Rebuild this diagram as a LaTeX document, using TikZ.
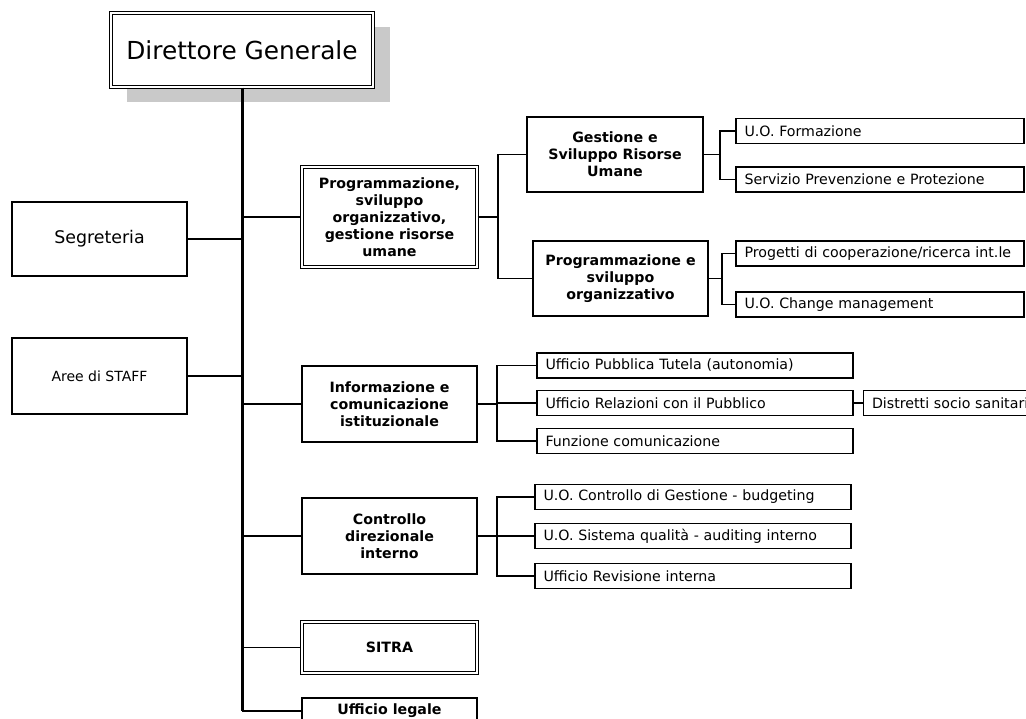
\documentclass[tikz,border=0pt]{standalone}
\usepackage{fontspec}
\setmainfont{DejaVu Sans}
\begin{document}
\begin{tikzpicture}[x=1pt,y=-1pt,
  box/.style={draw, line width=1.8pt, inner sep=0pt, align=center},
  unit/.style={box, font=\fontsize{14.2}{17}\selectfont\bfseries,
    minimum width=175pt, minimum height=75pt},
  dbl/.style={double, line width=1.3pt, double distance=1.8pt},
  leaf/.style={draw, line width=1.8pt, minimum height=25pt, inner xsep=8.5pt,
    inner ysep=0pt, align=left, font=\fontsize{14.2}{16}\selectfont},
  leafA/.style={leaf, text width=271pt},
  leafB/.style={leaf, text width=299pt},
  link/.style={line width=1.9pt},
  heavy/.style={line width=2.7pt},
  trunk/.style={line width=3pt},
]
\useasboundingbox (0,0) rectangle (1026,718);
\clip (0,0) rectangle (1026,718);

% shadow behind the head box
\fill[black!21] (127,27) rectangle (390,102);

% head and staff
\node[box, dbl, fill=white, minimum width=262pt, minimum height=74pt,
  font=\fontsize{24.8}{28}\selectfont] (dg) at (242,50) {Direttore Generale};
\node[box, line width=1.6pt, minimum width=175pt, minimum height=74pt,
  font=\fontsize{17.4}{20}\selectfont] (seg) at (99.5,239) {Segreteria};
\node[box, line width=1.6pt, minimum width=175pt, minimum height=76pt,
  font=\fontsize{14}{16}\selectfont] (staff) at (99.5,376) {Aree di STAFF};

% first-level units
\node[unit, dbl, minimum height=100pt] (prog) at (389.5,217)
  {Programmazione,\\sviluppo\\organizzativo,\\gestione risorse\\umane};
\node[unit, minimum height=76pt] (info) at (389.5,404)
  {Informazione e\\comunicazione\\istituzionale};
\node[unit, minimum height=76pt] (ctrl) at (389.5,536)
  {Controllo\\direzionale\\interno};
\node[unit, dbl, minimum height=51pt] (sitra) at (389.5,647.5) {SITRA};
\node[unit, minimum height=26pt] (legale) at (389.5,711) {Ufficio legale};

% second-level units
\node[unit, minimum width=176pt] (gest) at (615,154.5)
  {Gestione e\\Sviluppo Risorse\\Umane};
\node[unit] (psv) at (620.5,278.5)
  {Programmazione e\\sviluppo\\organizzativo};

% offices
\node[leafA] (form) at (880,131) {U.O. Formazione};
\node[leafA] (spp)  at (880,179.5) {Servizio Prevenzione e Protezione};
\node[leafA] (proj) at (880,253.5) {Progetti di cooperazione/ricerca int.le};
\node[leafA] (chg)  at (880,304.5) {U.O. Change management};

\node[leafB] (tut) at (695,365.5) {Ufficio Pubblica Tutela (autonomia)};
\node[leafB] (urp) at (695,403) {Ufficio Relazioni con il Pubblico};
\node[leafB] (fun) at (695,441) {Funzione comunicazione};
\node[leaf, text width=240pt] (dist) at (992,403) {Distretti socio sanitari};

\node[leafB] (bud)  at (693,497) {U.O. Controllo di Gestione - budgeting};
\node[leafB] (qual) at (693,536) {U.O. Sistema qualità - auditing interno};
\node[leafB] (rev)  at (693,576) {Ufficio Revisione interna};

% bracket positions
\coordinate (bA) at (498,0);
\coordinate (bB) at (720,0);
\coordinate (bC) at (722,0);
\coordinate (bD) at (497,0);

% trunk and its branches
\draw[trunk] (dg.south) -- (dg.south |- legale.west);
\foreach \n in {seg,staff}
  \draw[link] (dg.south |- \n.east) -- (\n.east);
\foreach \n in {prog,info,ctrl,sitra,legale}
  \draw[link] (dg.south |- \n.west) -- (\n.west);

% programmazione branch
\draw[link] (prog.east) -- (prog.east -| bA);
\draw[link] (gest.west) -- (gest.west -| bA) -- (psv.west -| bA) -- (psv.west);
\draw[link] (gest.east) -- (gest.east -| bB);
\draw[link] (form.west) -- (form.west -| bB) -- (spp.west -| bB) -- (spp.west);
\draw[link] (psv.east) -- (psv.east -| bC);
\draw[link] (proj.west) -- (proj.west -| bC) -- (chg.west -| bC) -- (chg.west);

% informazione branch
\draw[heavy] (info.east) -- (info.east -| bD);
\draw[link] (tut.west) -- (tut.west -| bD) -- (fun.west -| bD) -- (fun.west);
\draw[link] (urp.west -| bD) -- (urp.west);
\draw[link] (urp.east) -- (dist.west);

% controllo branch
\draw[heavy] (ctrl.east) -- (ctrl.east -| bD);
\draw[link] (bud.west) -- (bud.west -| bD) -- (rev.west -| bD) -- (rev.west);
\draw[link] (qual.west -| bD) -- (qual.west);
\end{tikzpicture}
\end{document}
